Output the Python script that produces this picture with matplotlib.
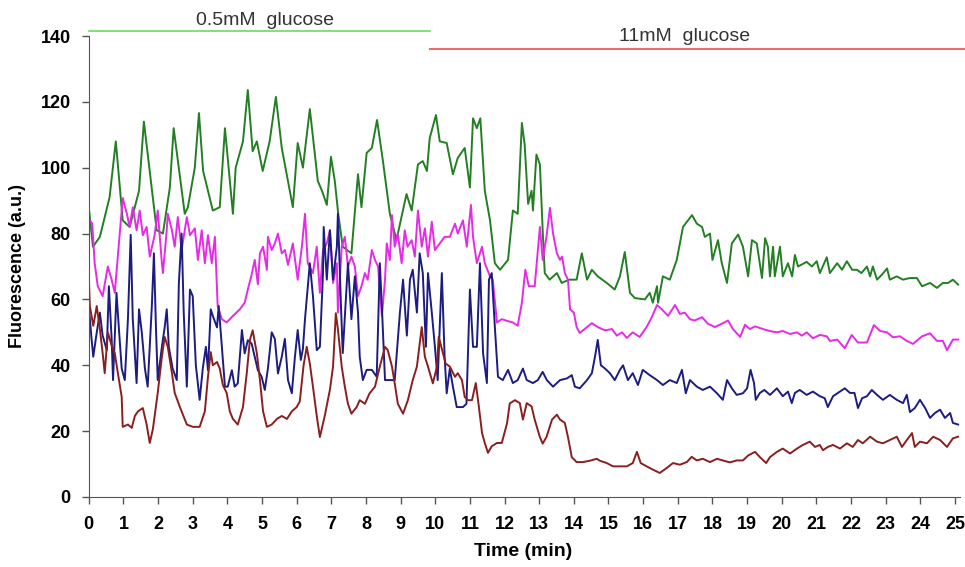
import matplotlib
matplotlib.use("Agg")
import matplotlib.pyplot as plt
import numpy as np

plt.rcParams['font.family'] = ['Liberation Sans', 'DejaVu Sans']

# traces: (time in min, fluorescence)
green_t = [0.0, 0.12, 0.32, 0.6, 0.78, 0.98, 1.18, 1.45, 1.59, 1.96, 2.14, 2.34, 2.45, 2.77, 2.86, 3.06, 3.18, 3.3, 3.58, 3.78,
           3.93, 4.16, 4.24, 4.45, 4.59, 4.73, 4.85, 5.02, 5.22, 5.4, 5.57, 5.89, 6.03, 6.18, 6.38, 6.61, 6.73, 6.87, 6.99, 7.1,
           7.2, 7.33, 7.58, 7.77, 7.87, 8.02, 8.17, 8.32, 8.49, 8.69, 8.88, 9.17, 9.32, 9.5, 9.64, 9.76, 9.84, 10.02, 10.13, 10.33,
           10.51, 10.65, 10.85, 11.0, 11.09, 11.2, 11.3, 11.43, 11.58, 11.72, 11.87, 12.1, 12.24, 12.38, 12.5, 12.58, 12.68, 12.78, 12.82, 12.92,
           13.02, 13.1, 13.16, 13.3, 13.51, 13.65, 13.86, 14.08, 14.23, 14.38, 14.52, 14.69, 14.95, 15.18, 15.33, 15.47, 15.62, 15.76, 16.05, 16.19,
           16.28, 16.4, 16.43, 16.57, 16.77, 16.97, 17.15, 17.41, 17.55, 17.7, 17.78, 17.93, 18.0, 18.16, 18.27, 18.42, 18.56, 18.74, 18.88, 19.03,
           19.14, 19.28, 19.43, 19.52, 19.6, 19.66, 19.75, 19.8, 19.95, 20.03, 20.18, 20.3, 20.38, 20.47, 20.72, 20.87, 21.01, 21.1, 21.3, 21.39,
           21.6, 21.74, 21.88, 22.03, 22.17, 22.3, 22.46, 22.55, 22.63, 22.75, 22.89, 23.04, 23.12, 23.32, 23.5, 23.7, 23.9, 24.05, 24.28, 24.48,
           24.65, 24.8, 24.94, 25.09]
green_v = [88, 76, 79, 91, 108, 84, 82, 93, 114, 81, 80, 94, 112, 86, 88, 100, 116.6, 99, 87, 88,
           112, 86, 100, 108, 123.6, 105, 108, 99, 108, 121.5, 106, 88, 107.5, 100, 117.8, 96, 93, 88.7, 103.3, 96,
           86, 76, 74, 98, 88, 104.5, 106, 114.5, 102, 86, 78, 92, 87, 101, 102, 99, 109, 116, 108, 107.5,
           98, 103, 106, 94, 115, 112, 115, 93, 84, 71, 69, 72, 87, 86, 113.6, 107, 89, 93, 87, 104,
           101, 81, 68, 66, 68, 65, 66, 66, 74, 66, 69, 67, 65, 63, 67, 74.4, 62, 60.4, 60, 62,
           59, 64, 59, 67, 66, 72, 82, 85.6, 83, 82, 79, 80, 72, 78, 71, 65, 77, 79.7, 76, 67,
           78, 77, 66.5, 78.6, 76, 67, 76, 67, 76, 67, 71, 67, 73.5, 70, 71.4, 70, 71.6, 68, 72.8, 68,
           71, 69, 71.6, 69, 69, 68, 70, 67, 70, 66, 67.5, 69.4, 66, 67, 66, 66.5, 66.5, 64, 65, 63.5,
           65, 65, 66, 64.5]

magenta_t = [0.03, 0.1, 0.17, 0.26, 0.4, 0.55, 0.66, 0.75, 0.9, 0.98, 1.1, 1.18, 1.27, 1.38, 1.47, 1.56, 1.67, 1.76, 1.9, 1.99,
             2.11, 2.14, 2.25, 2.28, 2.4, 2.48, 2.57, 2.68, 2.83, 2.92, 3.06, 3.15, 3.26, 3.35, 3.44, 3.55, 3.64, 3.72, 3.84, 3.98,
             4.16, 4.36, 4.5, 4.59, 4.7, 4.79, 4.88, 4.94, 5.03, 5.14, 5.17, 5.28, 5.37, 5.46, 5.57, 5.66, 5.75, 5.89, 6.03, 6.15,
             6.24, 6.32, 6.47, 6.58, 6.67, 6.76, 6.87, 6.96, 7.05, 7.16, 7.19, 7.3, 7.39, 7.48, 7.58, 7.68, 7.77, 7.87, 7.97, 8.05,
             8.17, 8.26, 8.35, 8.46, 8.55, 8.6, 8.69, 8.75, 8.83, 8.92, 9.03, 9.12, 9.2, 9.32, 9.41, 9.5, 9.61, 9.7, 9.79, 9.9,
             9.99, 10.13, 10.27, 10.42, 10.57, 10.65, 10.8, 10.91, 11.03, 11.09, 11.2, 11.35, 11.43, 11.58, 11.66, 11.78, 11.92, 12.07, 12.24, 12.38,
             12.5, 12.6, 12.7, 12.87, 13.02, 13.1, 13.21, 13.31, 13.4, 13.51, 13.6, 13.66, 13.74, 13.83, 13.89, 14.0, 14.08, 14.17, 14.38, 14.52,
             14.69, 14.9, 15.1, 15.24, 15.39, 15.53, 15.7, 15.9, 16.1, 16.25, 16.4, 16.54, 16.72, 16.92, 17.06, 17.2, 17.35, 17.49, 17.7, 17.87,
             18.07, 18.27, 18.45, 18.59, 18.8, 18.94, 19.08, 19.23, 19.46, 19.66, 19.86, 20.03, 20.24, 20.44, 20.58, 20.72, 20.9, 21.1, 21.3, 21.39,
             21.6, 21.82, 22.02, 22.2, 22.46, 22.66, 22.84, 23.04, 23.21, 23.41, 23.61, 23.79, 24.05, 24.28, 24.48, 24.65, 24.77, 24.94, 25.09]
magenta_v = [84, 83, 71, 64, 61, 70, 66, 62, 81, 90.8, 86, 82, 88, 81, 87, 79.5, 82, 73, 79.5, 87,
             71, 68, 81, 86, 81, 76, 85, 75, 85, 79.5, 81.6, 72, 81, 71, 79.5, 71, 79, 58, 54, 53,
             55, 57, 59, 63, 67.5, 72, 64.6, 74, 76, 69, 79, 75, 77, 80, 74, 75, 70.5, 77, 66, 76,
             86, 71, 68, 76, 62, 75, 77, 81, 65, 71, 56, 76, 79, 70, 73, 70, 61, 64, 68, 66,
             75, 72, 70, 55, 66, 77, 72, 85.6, 76, 80, 71, 81, 76, 78, 73, 87, 76, 81.6, 73, 83.6,
             75, 77, 79, 79, 83, 80, 84, 76, 88.7, 79, 71, 76, 71, 67, 66, 53, 54, 53.5, 53, 52,
             59, 69, 64, 64, 82, 72, 79, 87.8, 80, 74, 72, 73, 68, 66, 57, 56, 51.6, 49.8, 51.6, 52.8,
             51.6, 50.6, 51, 49, 50, 48.3, 50, 48.6, 51.6, 54.6, 58.3, 57, 55, 58.3, 55.6, 56, 54, 53.6, 54.6, 52.6,
             51.6, 52.6, 53.6, 51, 48.6, 52.3, 51, 51.8, 51, 50.4, 50, 50.4, 49.5, 50, 49, 50, 48.2, 49.2, 48.8, 47.4,
             47.8, 45.2, 49.2, 46.9, 46.9, 52.2, 50.4, 50, 48.5, 48.8, 47.4, 46.5, 48.8, 49.7, 47.4, 47.4, 44.6, 47.8, 47.8]

blue_t = [0.0, 0.08, 0.13, 0.23, 0.32, 0.4, 0.52, 0.58, 0.66, 0.7, 0.8, 0.87, 0.95, 1.04, 1.13, 1.21, 1.27, 1.38, 1.45, 1.53,
          1.62, 1.7, 1.82, 1.88, 1.94, 1.99, 2.11, 2.19, 2.25, 2.31, 2.42, 2.54, 2.6, 2.68, 2.74, 2.83, 2.92, 3.0, 3.09, 3.2,
          3.29, 3.38, 3.44, 3.52, 3.58, 3.7, 3.75, 3.84, 3.93, 4.01, 4.13, 4.21, 4.3, 4.42, 4.5, 4.59, 4.7, 4.79, 4.88, 4.99,
          5.08, 5.17, 5.28, 5.37, 5.46, 5.57, 5.66, 5.75, 5.86, 5.95, 6.03, 6.12, 6.18, 6.24, 6.38, 6.47, 6.58, 6.67, 6.76, 6.78,
          6.87, 6.96, 7.05, 7.16, 7.19, 7.28, 7.33, 7.45, 7.48, 7.58, 7.68, 7.77, 7.82, 7.91, 8.02, 8.17, 8.31, 8.4, 8.46, 8.55,
          8.69, 8.83, 8.98, 9.07, 9.18, 9.27, 9.35, 9.47, 9.55, 9.64, 9.73, 9.79, 9.9, 9.99, 10.07, 10.19, 10.27, 10.33, 10.42, 10.51,
          10.62, 10.8, 10.9, 11.0, 11.09, 11.2, 11.29, 11.38, 11.49, 11.55, 11.63, 11.72, 11.81, 11.95, 12.1, 12.24, 12.38, 12.53, 12.64, 12.82,
          12.96, 13.1, 13.22, 13.4, 13.6, 13.8, 13.94, 14.03, 14.17, 14.38, 14.52, 14.61, 14.69, 14.78, 14.9, 15.04, 15.18, 15.33, 15.42, 15.56,
          15.7, 15.85, 15.99, 16.19, 16.4, 16.57, 16.77, 16.97, 17.12, 17.23, 17.35, 17.55, 17.72, 17.93, 18.13, 18.3, 18.42, 18.56, 18.7, 18.88,
          19.0, 19.1, 19.2, 19.25, 19.37, 19.5, 19.66, 19.86, 20.03, 20.18, 20.29, 20.38, 20.52, 20.72, 20.9, 21.1, 21.24, 21.33, 21.48, 21.62,
          21.82, 21.97, 22.1, 22.2, 22.32, 22.46, 22.6, 22.75, 22.92, 23.12, 23.32, 23.5, 23.61, 23.7, 23.84, 23.99, 24.14, 24.28, 24.42, 24.57,
          24.71, 24.86, 24.94, 25.09]
blue_v = [58, 48, 42.6, 50, 56, 49, 44.6, 64, 48, 35.5, 62, 51, 39, 35.5, 54, 79.6, 54, 34.6, 57, 50,
          39, 33.5, 58, 74, 51, 35.5, 45.6, 51.5, 57, 45.6, 39, 35.5, 65, 80, 56, 33.5, 63, 61, 40, 29.5,
          39, 45.6, 38.5, 57, 55, 51.5, 58, 45.6, 33.5, 33.5, 38.5, 33.5, 34.5, 50.7, 43.6, 47.6, 46.6, 42.6, 38.5, 36.5,
          32.5, 39, 50, 48, 37.5, 42.6, 48, 35.5, 31.5, 42.6, 50.7, 41.6, 45, 54, 71, 61, 44.6, 45.6, 68, 82,
          66, 81, 66, 76, 86, 57.6, 43.7, 66, 71, 54, 67, 56, 42.6, 35.5, 38.6, 38.6, 36.5, 71, 57.6, 35.5,
          35.5, 35.5, 56, 66, 49, 66, 69, 56, 74, 68, 45.6, 68, 56, 45.6, 35.5, 68, 42.6, 31.5, 39, 33.5,
          27.3, 27.3, 28.3, 63, 45.6, 45.6, 71, 43.6, 34.6, 66, 68, 51.6, 36.5, 35.5, 38.6, 34.6, 35.5, 39, 35.5, 34.6,
          35.5, 38, 35.5, 33.5, 35.5, 36, 37, 33.5, 33, 35.5, 37.6, 42.6, 47.7, 40, 39, 37.6, 35.5, 38.6, 40, 35.5,
          37.6, 34, 38.6, 37, 35.5, 34, 35.5, 34.6, 38.6, 31.5, 35.5, 33.5, 32.5, 33.5, 31.5, 29.5, 35.5, 33, 31, 31.5,
          33, 38.6, 34.6, 29.5, 31.6, 32.5, 31, 33, 30.6, 32, 28.5, 31.6, 32.5, 31, 32, 30.6, 30, 27.3, 30.6, 31.6,
          33, 31.6, 31.6, 27, 30, 30.6, 32.5, 31, 29.5, 31, 29.5, 28.5, 31, 25.8, 27, 29.5, 27, 24, 25.5, 26.5,
          24, 25.5, 22.5, 22]

brown_t = [0.0, 0.03, 0.13, 0.23, 0.32, 0.4, 0.46, 0.55, 0.66, 0.75, 0.84, 0.95, 0.98, 1.13, 1.24, 1.33, 1.42, 1.56, 1.67, 1.76,
           1.85, 1.99, 2.11, 2.19, 2.28, 2.4, 2.48, 2.63, 2.83, 3.0, 3.2, 3.35, 3.44, 3.52, 3.58, 3.7, 3.78, 3.87, 3.98, 4.07,
           4.16, 4.3, 4.45, 4.56, 4.65, 4.73, 4.85, 4.94, 5.03, 5.14, 5.28, 5.43, 5.57, 5.72, 5.86, 6.0, 6.09, 6.2, 6.29, 6.38,
           6.47, 6.58, 6.67, 6.81, 6.96, 7.05, 7.13, 7.19, 7.3, 7.39, 7.48, 7.58, 7.73, 7.82, 7.97, 8.1, 8.26, 8.4, 8.55, 8.63,
           8.75, 8.83, 8.92, 9.07, 9.21, 9.35, 9.47, 9.61, 9.7, 9.79, 9.93, 10.05, 10.1, 10.22, 10.3, 10.42, 10.57, 10.65, 10.77, 10.85,
           10.94, 11.06, 11.17, 11.26, 11.35, 11.43, 11.52, 11.63, 11.78, 11.92, 12.07, 12.15, 12.3, 12.44, 12.53, 12.64, 12.78, 12.87, 13.02, 13.1,
           13.21, 13.37, 13.51, 13.6, 13.74, 13.83, 13.94, 14.08, 14.26, 14.46, 14.66, 14.75, 14.95, 15.13, 15.33, 15.53, 15.7, 15.82, 15.93, 16.1,
           16.28, 16.48, 16.68, 16.86, 17.06, 17.26, 17.4, 17.55, 17.72, 17.93, 18.13, 18.3, 18.5, 18.7, 18.88, 19.03, 19.23, 19.37, 19.55, 19.66,
           19.86, 20.03, 20.24, 20.44, 20.61, 20.81, 20.96, 21.1, 21.19, 21.33, 21.48, 21.68, 21.88, 22.05, 22.2, 22.34, 22.55, 22.75, 22.92, 23.12,
           23.32, 23.47, 23.61, 23.76, 23.84, 23.99, 24.19, 24.37, 24.57, 24.77, 24.94, 25.09]
brown_v = [67, 58, 52, 58, 51, 43.7, 37.6, 50, 46, 43.7, 37.6, 30.4, 21.3, 22, 21, 24.6, 26, 27, 22, 16.4,
           20.6, 31.6, 42.6, 48.6, 45.6, 37.6, 31.6, 27.3, 22, 21.3, 21.3, 26, 36.5, 44, 40, 41, 39, 34, 31.6, 26,
           23.7, 22, 27.3, 37.6, 47.7, 50.6, 43.7, 35.5, 26, 21.3, 22, 23.7, 24.6, 23.7, 26, 27.3, 29, 40, 45.6, 40.5,
           33.5, 24.6, 18.2, 24.6, 32.6, 39.6, 55.8, 51, 39.6, 33.5, 28.3, 25.3, 27.3, 29.4, 28.3, 31.4, 33.5, 39.6, 45.6, 44.6,
           39.6, 34.5, 28.3, 25.3, 29.4, 35.5, 39.6, 51.6, 42.6, 39.6, 34.5, 39.6, 48.6, 43.7, 40.5, 39.6, 36.5, 37.6, 35.5, 30.4,
           29.4, 29.4, 34.6, 27.3, 19.4, 16.4, 13.4, 15.4, 16.4, 16.4, 22.3, 28.4, 29.4, 28.5, 23.5, 28.5, 27.5, 23.5, 18.2, 16.2,
           18.2, 23.5, 25, 23.5, 22.5, 18.2, 12.1, 10.6, 10.6, 11, 11.6, 11, 10.3, 9.3, 9.3, 9.3, 10.3, 13.7, 10.3, 9.3,
           8.3, 7.3, 8.8, 10.3, 9.8, 10.6, 12.2, 11.1, 11.6, 10.6, 11.6, 11.1, 10.5, 11.1, 11.1, 12.6, 13.7, 12.1, 10.3, 12.1,
           13.7, 14.7, 13.2, 14.7, 15.8, 16.8, 15.2, 15.8, 14.2, 15.2, 15.8, 14.7, 16.3, 15.2, 17.3, 16.3, 18.3, 16.8, 16.3, 17.3,
           18.3, 15.2, 17.3, 19.4, 15.2, 16.8, 16.3, 18.3, 17.3, 15.2, 17.8, 18.3]

low_label = "0.5mM  glucose"
high_label = "11mM  glucose"
switch_time = 9.84

fig = plt.figure(figsize=(9.65, 5.67), dpi=100)
ax = fig.add_axes([0.092, 0.1235, 0.903, 0.813])

ax.plot(green_t, green_v, color="#237f23", lw=1.4)
ax.plot(magenta_t, magenta_v, color="#e62ae6", lw=1.4)
ax.plot(blue_t, blue_v, color="#1c1c82", lw=1.4)
ax.plot(brown_t, brown_v, color="#8a1f1f", lw=1.4)

# glucose bars above the plot
ax.plot([0, switch_time], [141.5, 141.5], color="#66dd66", lw=1.2, clip_on=False)
ax.plot([switch_time, 25.3], [136, 136], color="#ee6b6b", lw=1.5, clip_on=False)
ax.text(5.08, 144.6, low_label, ha="center", va="center", fontsize=14, color="#333333")
ax.text(17.2, 140.0, high_label, ha="center", va="center", fontsize=14, color="#333333")

ax.set_xlim(0, 25.15)
ax.set_ylim(0, 140)
ax.set_xticks(range(0, 26))
ax.set_yticks(range(0, 141, 20))
for s in ["top", "right"]:
    ax.spines[s].set_visible(False)
for s in ["left", "bottom"]:
    ax.spines[s].set_color("#555555")
ax.tick_params(colors="#555555", labelcolor="black", length=5, width=1, labelsize=13)
ax.tick_params(axis="y", pad=8)
ax.tick_params(axis="x", pad=9)
for lab in ax.get_xticklabels() + ax.get_yticklabels():
    lab.set_fontweight("bold")
ax.set_xlabel("Time (min)", fontsize=14, fontweight="bold")
ax.set_ylabel("Fluorescence (a.u.)", fontsize=13, fontweight="bold")
ax.xaxis.set_label_coords(0.498, -0.10)
ax.yaxis.set_label_coords(-0.072, 0.5)

fig.savefig("out.png", dpi=100)
